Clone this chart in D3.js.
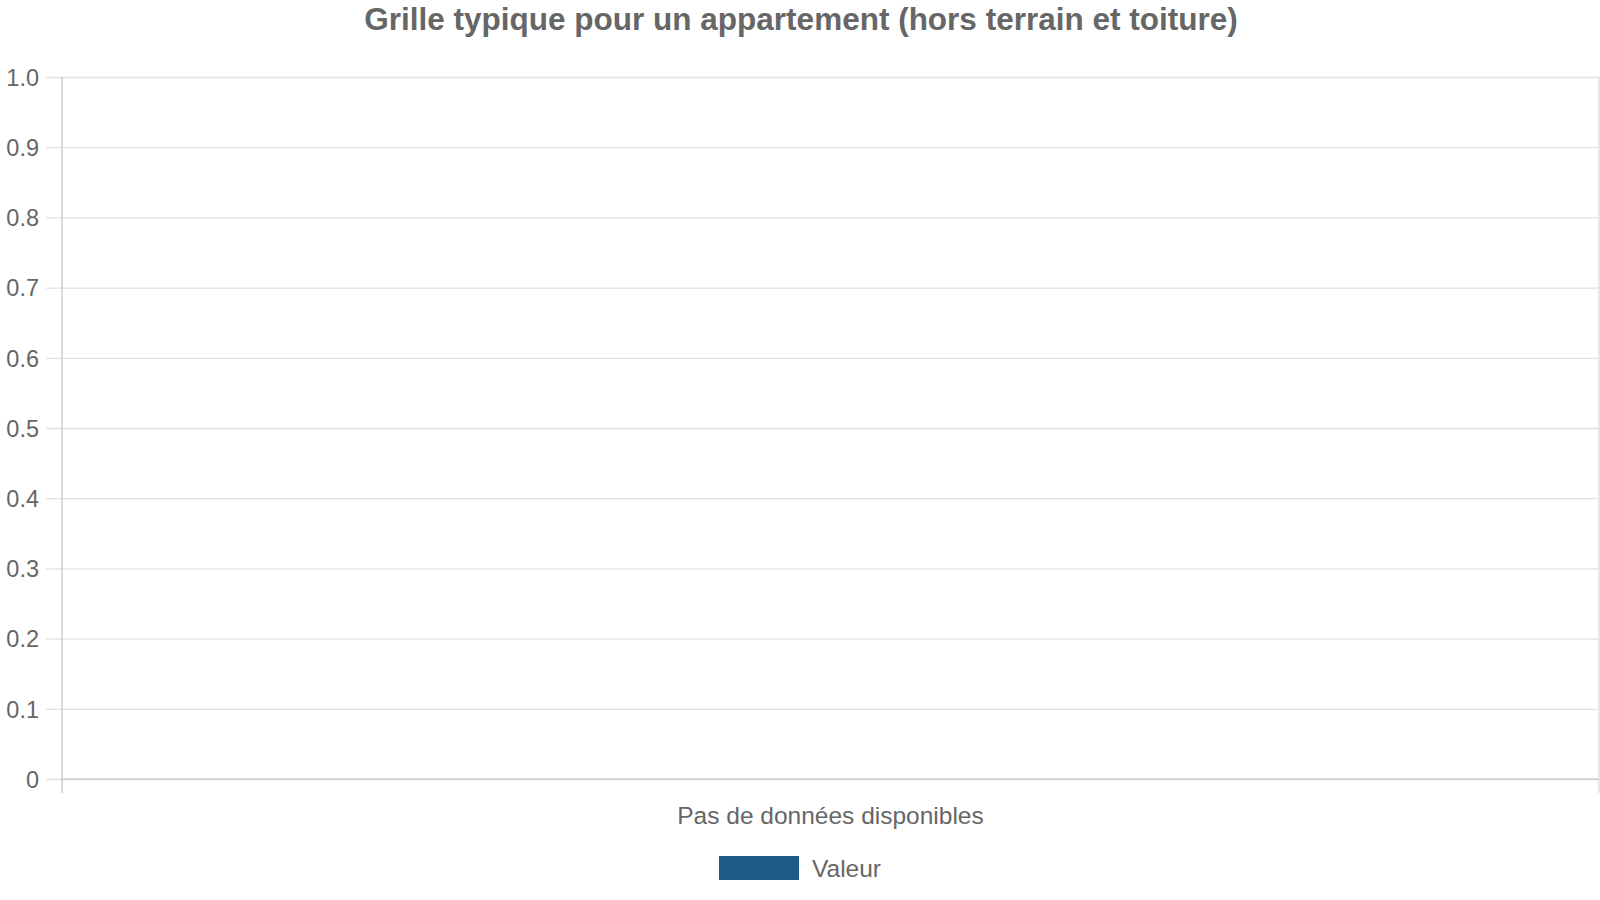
<!DOCTYPE html>
<html lang="fr">
    <head>
        <meta charset="utf-8">
        <title>Grille typique</title>
        <script type="text/javascript" src="https://cdn.jsdelivr.net/npm/d3@7"></script>
        <style>
            body { margin: 0; background: #fff; }
            svg text { font-family: "Liberation Sans", Arial, sans-serif; fill: #666; }
        </style>
    </head>
    <body>
        <script type="text/javascript">
            // data: nothing available, one placeholder category
            var categories = ["Pas de données disponibles"];
            var values = [0];
            var yTicks = [0, 0.1, 0.2, 0.3, 0.4, 0.5, 0.6, 0.7, 0.8, 0.9, 1.0];
            var seriesName = "Valeur";
            var chartTitle = "Grille typique pour un appartement (hors terrain et toiture)";

            var w = 1600, h = 900;
            var plotLeft = 62, plotRight = 1599, plotTop = 77, plotBottom = 779;
            var barColor = "#1f5b84";

            var svg = d3.select("body").append("svg").attr("width", w).attr("height", h);

            var xScale = d3.scaleBand().domain(categories).range([plotLeft, plotRight]).padding(0.1);
            var yScale = d3.scaleLinear().domain([0, 1]).range([plotBottom, plotTop]);

            // title
            svg.append("text")
                .attr("x", w / 2 + 1).attr("y", 30)
                .attr("text-anchor", "middle")
                .attr("font-size", "31.5px").attr("font-weight", "bold")
                .text(chartTitle);

            // horizontal grid + y axis
            var yAxis = d3.axisLeft(yScale)
                .tickValues(yTicks)
                .tickSize(0)
                .tickPadding(0)
                .tickFormat(function(d) { return d === 0 ? "0" : d3.format(".1f")(d); });

            var gy = svg.append("g")
                .attr("transform", "translate(" + (plotLeft - 16) + ",0)")
                .call(yAxis);
            gy.select(".domain").remove();
            gy.selectAll(".tick line")
                .attr("stroke", "#e0e0e0").attr("stroke-width", 1.3)
                .attr("x1", 0).attr("x2", plotRight - plotLeft + 16);
            gy.selectAll(".tick text")
                .attr("font-size", "23.5px").attr("x", -7).attr("dy", "0.35em")
                .style("fill", "#666");

            // vertical edges of the category band
            var edges = xScale.range();
            svg.selectAll(".vedge").data(edges).enter().append("line")
                .attr("class", "vedge")
                .attr("x1", function(d) { return d; }).attr("x2", function(d) { return d; })
                .attr("y1", plotTop).attr("y2", plotBottom + 14)
                .attr("stroke", function(d, i) { return i === 0 ? "#cccccc" : "#e0e0e0"; })
                .attr("stroke-width", 1.5);

            // baseline
            svg.append("line")
                .attr("x1", plotLeft).attr("x2", plotRight)
                .attr("y1", plotBottom).attr("y2", plotBottom)
                .attr("stroke", "#cccccc").attr("stroke-width", 1.5);

            // bars (none visible, value 0)
            svg.selectAll("rect.bar").data(values).enter().append("rect")
                .attr("class", "bar")
                .attr("x", function(d, i) { return xScale(categories[i]); })
                .attr("width", xScale.bandwidth())
                .attr("y", function(d) { return yScale(d); })
                .attr("height", function(d) { return plotBottom - yScale(d); })
                .attr("fill", barColor);

            // category labels
            var xAxis = d3.axisBottom(xScale).tickSize(0).tickPadding(28);
            var gx = svg.append("g")
                .attr("transform", "translate(0," + plotBottom + ")")
                .call(xAxis);
            gx.select(".domain").remove();
            gx.selectAll("text").attr("font-size", "24.5px").style("fill", "#666");

            // legend
            var legend = svg.append("g").attr("transform", "translate(719,856)");
            legend.append("rect").attr("width", 80).attr("height", 24).attr("fill", barColor);
            legend.append("text").attr("x", 93).attr("y", 21).attr("font-size", "24.5px").text(seriesName);
        </script>
    </body>
</html>
